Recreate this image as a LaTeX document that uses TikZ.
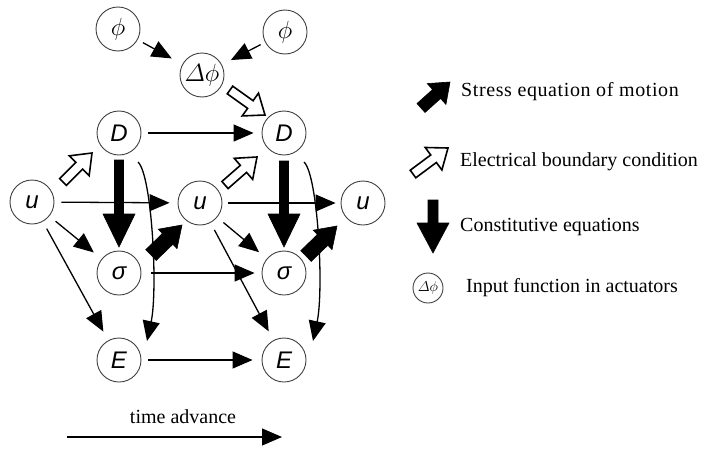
\documentclass[tikz,border=0pt]{standalone}
\usepackage{amsmath}
\usepackage{fontspec}
\setmainfont{Liberation Serif}
\newfontfamily\nodefnt{Liberation Sans}
\usetikzlibrary{arrows.meta,calc}
\newcommand\blockarr[6]{%
  \coordinate (bah) at ($(#3)!#6!(#2)$);
  \path[#1] ($(#2)!#4!90:(#3)$) -- ($(bah)!#4!-90:(#2)$) -- ($(bah)!#5!-90:(#2)$) -- (#3)
    -- ($(bah)!#5!90:(#2)$) -- ($(bah)!#4!90:(#2)$) -- ($(#2)!#4!-90:(#3)$) -- cycle;
}
\tikzset{
  circ/.style={circle, draw=black!75, line width=0.9pt, minimum size=44pt, inner sep=0pt,
    font=\nodefnt\itshape\fontsize{24}{28}\selectfont},
  conn/.style={draw, line width=1.3pt, -{Triangle[length=20pt,width=17pt]},
    shorten <=7pt, shorten >=8pt},
  blk/.style={fill=black, draw=black, line width=0.6pt, line join=miter},
  opn/.style={fill=white, draw=black, line width=1.6pt, line join=miter},
  legtext/.style={font=\fontsize{20}{24}\selectfont, inner sep=0pt}
}
\begin{document}
\begin{tikzpicture}[x=1pt,y=-1pt]
\useasboundingbox (0,0) rectangle (704,450);
% nodes
\node[circ, font=\fontsize{28}{32}\selectfont] (phi1) at (118,29) {$\phi$};
\node[circ, font=\fontsize{28}{32}\selectfont] (phi2) at (285,32) {$\phi$};
\node[circ, font=\fontsize{24}{28}\selectfont] (dphi) at (202,75) {$\varDelta\phi$};
\node[circ] (D1) at (119,133) {D};
\node[circ] (D2) at (284,133) {D};
\node[circ] (u1) at (32,202) {u};
\node[circ] (u2) at (200,203) {u};
\node[circ] (u3) at (363,203) {u};
\node[circ] (s1) at (119,273) {σ};
\node[circ] (s2) at (284,273) {σ};
\node[circ] (E1) at (119,360) {E};
\node[circ] (E2) at (284,360) {E};

% thin connectors
\draw[conn, shorten <=6pt, shorten >=12pt] (phi1) -- (dphi);
\draw[conn, shorten <=5pt, shorten >=10pt] (phi2) -- (dphi);
\draw[conn] (D1) -- (D2);
\draw[conn] (u1) -- (u2);
\draw[conn, shorten <=6pt, shorten >=5pt] (u2) -- (u3);
\draw[conn, shorten <=10pt, shorten >=7pt] (s1) -- (s2);
\draw[conn, shorten >=9pt] (E1) -- (E2);
\draw[conn, shorten <=8pt, shorten >=10pt] (u1) -- (s1);
\draw[conn, shorten <=8pt, shorten >=10pt] (u1) -- (E1);
\draw[conn, shorten <=8pt, shorten >=10pt] (u2) -- (s2);
\draw[conn, shorten <=8pt, shorten >=10pt] (u2) -- (E2);
\draw[line width=1.3pt, -{Triangle[length=20pt,width=17pt]}]
  ($(D1)+(19,29)$) .. controls ($(D1)+(33,42)$) and ($(E1)+(39,-70)$) .. ($(E1)+(28,-19)$);
\draw[line width=1.3pt, -{Triangle[length=20pt,width=17pt]}]
  ($(D2)+(20,29)$) .. controls ($(D2)+(34,42)$) and ($(E2)+(40,-70)$) .. ($(E2)+(29,-19)$);

% big down arrows D -> sigma
\coordinate (a1s) at ($(D1)+(0,27)$); \coordinate (a1e) at ($(s1)+(0,-26)$);
\blockarr{blk}{a1s}{a1e}{4.5pt}{16pt}{33pt}
\coordinate (a2s) at ($(D2)+(0,28)$); \coordinate (a2e) at ($(s2)+(0,-26)$);
\blockarr{blk}{a2s}{a2e}{4.5pt}{16pt}{33pt}

% stress arrows sigma -> u
\coordinate (b1s) at ($(s1)+(32,-18)$); \coordinate (b1e) at ($(u2)+(-18,22)$);
\blockarr{blk}{b1s}{b1e}{7.5pt}{13.5pt}{20pt}
\coordinate (b2s) at ($(s2)+(22,-17)$); \coordinate (b2e) at ($(u3)+(-26,23)$);
\blockarr{blk}{b2s}{b2e}{7.5pt}{13.5pt}{20pt}

% electrical boundary condition arrows
\coordinate (c1s) at ($(u1)+(31,-20)$); \coordinate (c1e) at ($(D1)+(-27,20)$);
\blockarr{opn}{c1s}{c1e}{4.7pt}{14pt}{18pt}
\coordinate (c2s) at ($(u2)+(25,-18)$); \coordinate (c2e) at ($(D2)+(-27,24)$);
\blockarr{opn}{c2s}{c2e}{4.7pt}{14pt}{18pt}
\coordinate (c3s) at ($(dphi)+(28,15)$); \coordinate (c3e) at ($(D2)+(-19,-18)$);
\blockarr{opn}{c3s}{c3e}{4.7pt}{14pt}{18pt}

% time advance
\coordinate (ta1) at (67,437);
\coordinate (ta2) at (282,437);
\draw[line width=1.3pt, -{Triangle[length=20pt,width=17pt]}] (ta1) -- (ta2);
\node[legtext] (tlab) at (183,417) {time advance};

% legend
\coordinate (l1s) at (421,108); \coordinate (l1e) at (450,82);
\blockarr{blk}{l1s}{l1e}{6pt}{14pt}{18pt}
\node[legtext, anchor=west] (t1) at (461,92) {\addfontfeature{LetterSpace=3}Stress equation of motion};
\coordinate (l2s) at (413,174); \coordinate (l2e) at (448,148);
\blockarr{opn}{l2s}{l2e}{4.7pt}{14pt}{18pt}
\node[legtext, anchor=west] (t2) at (460,162) {Electrical boundary condition};
\coordinate (l3s) at (433,200); \coordinate (l3e) at (433,253);
\blockarr{blk}{l3s}{l3e}{5pt}{16pt}{30pt}
\node[legtext, anchor=west] (t3) at (460,227) {Constitutive equations};
\node[circ, minimum size=30pt, font=\fontsize{14}{16}\selectfont] (lphi) at (428,288) {$\varDelta\phi$};
\node[legtext, anchor=west] (t4) at (466,288) {Input function in actuators};
\end{tikzpicture}
\end{document}
